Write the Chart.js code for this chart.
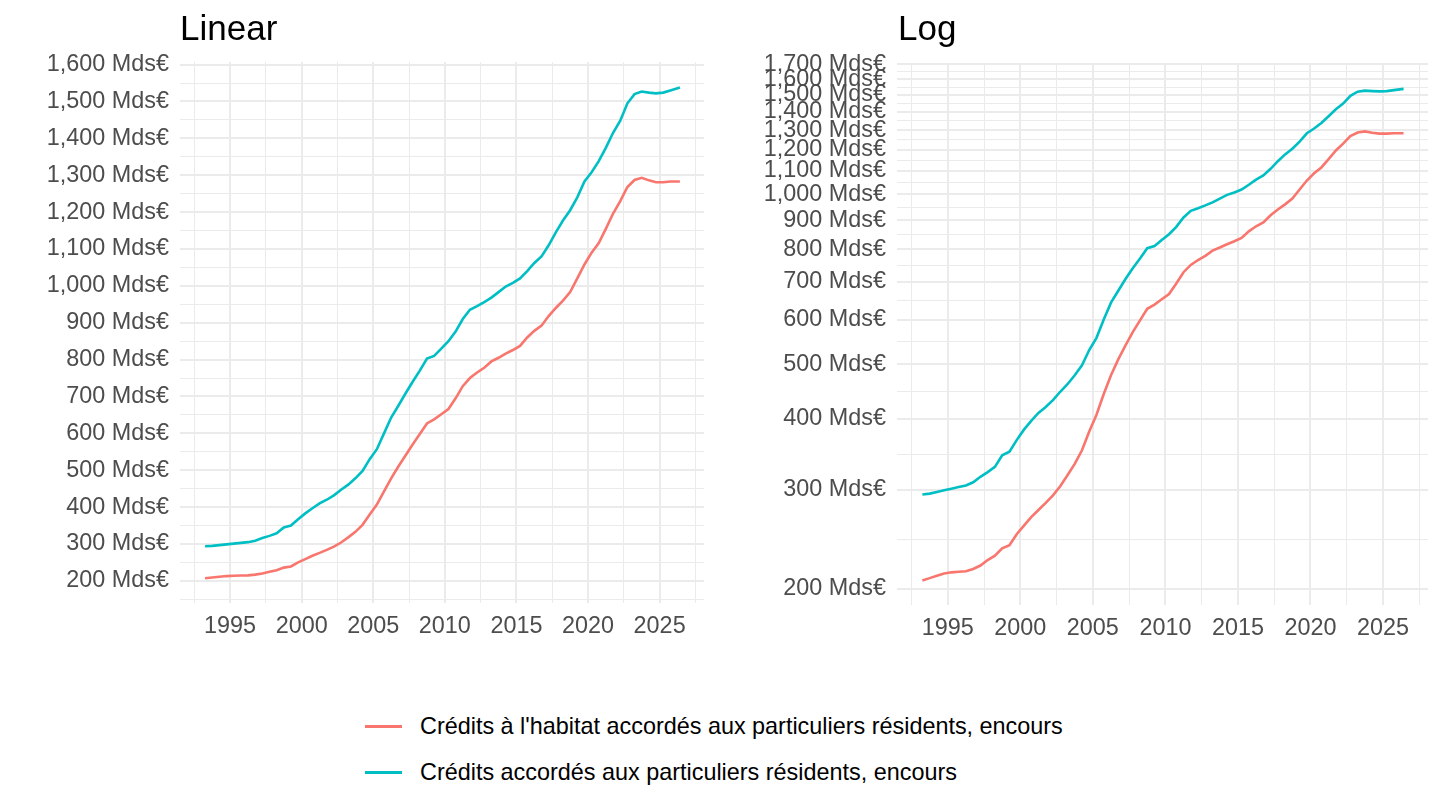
<!DOCTYPE html>
<html>
<head>
<meta charset="utf-8">
<script src="https://cdn.jsdelivr.net/npm/chart.js@4.4.1/dist/chart.umd.min.js"></script>
<style>
  body { margin: 0; background: #fff; width: 1440px; height: 810px; position: relative; overflow: hidden;
         font-family: "Liberation Sans", Arial, sans-serif; }
  canvas { position: absolute; top: 0; }
  .title { position: absolute; top: 10px; font-size: 35px; line-height: 35px; color: #000; }
  .leg-line { position: absolute; left: 365px; width: 37px; height: 3px; }
  .leg-text { position: absolute; left: 420px; font-size: 23.4px; line-height: 23.4px; color: #000; white-space: nowrap; }
</style>
</head>
<body>
<canvas id="linear-chart" width="720" height="680" style="left:0"></canvas>
<canvas id="log-chart" width="720" height="680" style="left:720px"></canvas>
<div class="title" style="left:180px">Linear</div>
<div class="title" style="left:898px">Log</div>
<div id="legend"></div>
<script>
// monthly points, every six months
const dates = ['1993-04','1993-10','1994-04','1994-10','1995-04','1995-10','1996-04','1996-10','1997-04','1997-10',
  '1998-04','1998-10','1999-04','1999-10','2000-04','2000-10','2001-04','2001-10','2002-04','2002-10',
  '2003-04','2003-10','2004-04','2004-10','2005-04','2005-10','2006-04','2006-10','2007-04','2007-10',
  '2008-04','2008-10','2009-04','2009-10','2010-04','2010-10','2011-04','2011-10','2012-04','2012-10',
  '2013-04','2013-10','2014-04','2014-10','2015-04','2015-10','2016-04','2016-10','2017-04','2017-10',
  '2018-04','2018-10','2019-04','2019-10','2020-04','2020-10','2021-04','2021-10','2022-04','2022-10',
  '2023-04','2023-10','2024-04','2024-10','2025-04','2025-10','2026-06'];

const habitat = [207, 209, 211, 213, 214, 214.5, 215, 217, 220, 225,
  229, 236, 239, 250, 259, 268, 276, 284, 293, 304,
  318, 333, 352, 380, 407, 443, 478, 510, 540, 570,
  598, 627, 638, 652, 666, 695, 728, 750, 765, 778,
  795, 805, 816, 826, 837, 860, 878, 892, 918, 940,
  960, 983, 1020, 1058, 1090, 1116, 1155, 1196, 1230, 1268,
  1287, 1293, 1286, 1281, 1281, 1283, 1283];

const total = [294, 295, 297, 299, 301, 303, 305, 309, 316, 322,
  329, 345, 350, 367, 383, 397, 410, 420, 432, 447,
  461, 478, 498, 530, 557, 600, 643, 675, 708, 740,
  770, 803, 810, 830, 850, 876, 910, 935, 945, 956,
  968, 983, 998, 1008, 1020, 1040, 1062, 1080, 1110, 1145,
  1177, 1205, 1240, 1283, 1308, 1338, 1375, 1415, 1448, 1495,
  1520, 1527, 1524, 1522, 1524, 1530, 1538];

const seriesNames = ["Crédits à l'habitat accordés aux particuliers résidents, encours",
                     "Crédits accordés aux particuliers résidents, encours"];
const seriesColors = ['#F8766D', '#00BFC4'];

const xTickYears = [1995, 2000, 2005, 2010, 2015, 2020, 2025];
const linTicks = [200, 300, 400, 500, 600, 700, 800, 900, 1000, 1100, 1200, 1300, 1400, 1500, 1600];
const logTicks = [200, 300, 400, 500, 600, 700, 800, 900, 1000, 1100, 1200, 1300, 1400, 1500, 1600, 1700];

const GRID = '#EBEBEB';
const TICK_FONT = { family: '"Liberation Sans", Arial, sans-serif', size: 23.4 };

function toYear(s) {
  const [y, m] = s.split('-').map(Number);
  return y + (m - 1) / 12;
}
const xs = dates.map(toYear);

function fmt(v) {
  return v.toLocaleString('en-US') + ' Mds€';
}

// major ticks + ggplot-style minor breaks halfway between them
function withMinors(majors, min, max, mid) {
  const out = [];
  const lo = mid(2 * majors[0] - majors[1], majors[0]);
  if (lo >= min) out.push(lo);
  majors.forEach((v, i) => {
    out.push(v);
    if (i < majors.length - 1) out.push(mid(v, majors[i + 1]));
  });
  const n = majors.length;
  const hi = mid(majors[n - 1], 2 * majors[n - 1] - majors[n - 2]);
  if (hi <= max) out.push(hi);
  return out.filter(v => v >= min && v <= max);
}

function makeChart(id, yType, yMin, yMax, majors, mid, yWidth, pad, xHeight) {
  const datasets = [habitat, total].map((vals, i) => ({
    label: seriesNames[i],
    data: vals.map((v, j) => ({ x: xs[j], y: v })),
    borderColor: seriesColors[i],
    backgroundColor: seriesColors[i],
    borderWidth: 2.6,
    pointRadius: 0,
    tension: 0
  }));
  const xMin = 1991.5, xMax = 2028.1;
  const xAll = withMinors(xTickYears, xMin, xMax, (a, b) => (a + b) / 2);
  const yAll = withMinors(majors, yMin, yMax, mid);
  const isMajor = v => majors.some(m => Math.abs(m - v) < 1e-6);

  return new Chart(document.getElementById(id), {
    type: 'line',
    data: { datasets },
    options: {
      responsive: false,
      animation: false,
      layout: { padding: pad },
      plugins: { legend: { display: false }, tooltip: { enabled: false } },
      scales: {
        x: {
          type: 'linear', min: xMin, max: xMax,
          afterBuildTicks: s => { s.ticks = xAll.map(v => ({ value: v })); },
          afterFit: s => { s.height = xHeight; },
          border: { display: false },
          grid: {
            color: GRID, drawTicks: false,
            lineWidth: c => (c.tick && xTickYears.includes(c.tick.value)) ? 2 : 1
          },
          ticks: {
            autoSkip: false, maxRotation: 0, padding: 10, color: '#4D4D4D', font: TICK_FONT,
            callback: v => xTickYears.includes(v) ? String(v) : ''
          }
        },
        y: {
          type: yType, min: yMin, max: yMax,
          afterBuildTicks: s => { s.ticks = yAll.map(v => ({ value: v })); },
          afterFit: s => { s.width = yWidth; },
          border: { display: false },
          grid: {
            color: GRID, drawTicks: false,
            lineWidth: c => (c.tick && isMajor(c.tick.value)) ? 2 : 1
          },
          ticks: {
            autoSkip: false, padding: 11, color: '#4D4D4D', font: TICK_FONT,
            callback: v => isMajor(v) ? fmt(Math.round(v)) : ''
          }
        }
      }
    }
  });
}

makeChart('linear-chart', 'linear', 140, 1607, linTicks, (a, b) => (a + b) / 2, 180,
  { top: 62, right: 16, bottom: 0, left: 0 }, 77);
makeChart('log-chart', 'logarithmic', 187.3, 1702, logTicks, (a, b) => Math.sqrt(a * b), 177,
  { top: 64, right: 12, bottom: 0, left: 0 }, 75);

// legend below both panels
const legend = document.getElementById('legend');
const legendTop = [715, 761];
seriesNames.forEach((name, i) => {
  const line = document.createElement('div');
  line.className = 'leg-line';
  line.style.top = (legendTop[i] + 10) + 'px';
  line.style.background = seriesColors[i];
  const txt = document.createElement('div');
  txt.className = 'leg-text';
  txt.style.top = legendTop[i] + 'px';
  txt.textContent = name;
  legend.appendChild(line);
  legend.appendChild(txt);
});
</script>
</body>
</html>
